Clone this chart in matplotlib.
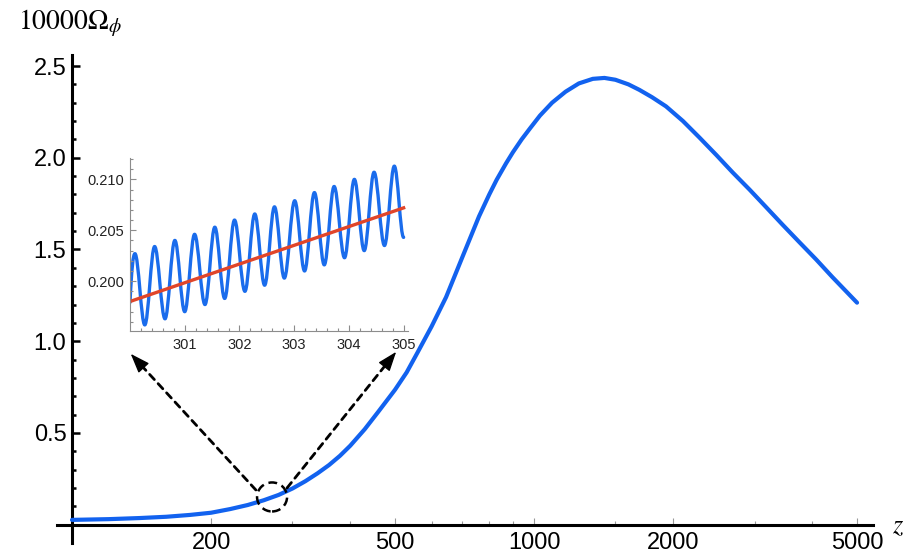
import matplotlib
matplotlib.use("Agg")
import numpy as np
import matplotlib.pyplot as plt
from matplotlib.path import Path
from matplotlib.patches import PathPatch, Ellipse
from matplotlib.transforms import ScaledTranslation

plt.rcParams['font.family'] = ['Liberation Sans', 'DejaVu Sans']
plt.rcParams['mathtext.fontset'] = 'stix'

# main curve (z, 10000*Omega_phi)
z_main = [100, 120, 140, 160, 180, 200, 220, 240, 260, 280, 300, 320, 340,
          360, 380, 400, 430, 460, 500, 530, 560, 600, 645, 700, 760, 800,
          830, 870, 900, 940, 980, 1030, 1094, 1170, 1250, 1340, 1420, 1500,
          1600, 1690, 1800, 1930, 2100, 2280, 2480, 2690, 2930, 3180, 3450,
          3750, 4080, 4420, 5000]
om_main = [0.026, 0.030, 0.036, 0.043, 0.053, 0.065, 0.085, 0.107, 0.133,
           0.162, 0.197, 0.237, 0.280, 0.325, 0.375, 0.430, 0.520, 0.615,
           0.735, 0.830, 0.940, 1.080, 1.240, 1.460, 1.680, 1.800, 1.880,
           1.970, 2.030, 2.100, 2.160, 2.230, 2.300, 2.360, 2.405, 2.430,
           2.435, 2.425, 2.400, 2.370, 2.330, 2.280, 2.200, 2.110, 2.015,
           1.920, 1.825, 1.730, 1.635, 1.540, 1.445, 1.350, 1.210]

x_major = [200, 500, 1000, 2000, 5000]
x_minor = [300, 400, 600, 700, 800, 900, 1500, 3000, 4000]
y_major = [0.5, 1.0, 1.5, 2.0, 2.5]

# inset: start point, then alternating peaks / troughs, then end point
z_wave = [300.00, 300.09, 300.27, 300.45, 300.64, 300.82, 301.00, 301.18,
          301.37, 301.55, 301.73, 301.91, 302.10, 302.28, 302.46, 302.64,
          302.82, 303.01, 303.19, 303.37, 303.55, 303.73, 303.92, 304.10,
          304.28, 304.46, 304.65, 304.83, 305.00]
om_wave = [0.1979, 0.2027, 0.1957, 0.2034, 0.1963, 0.2040, 0.1970, 0.2046,
           0.1977, 0.2053, 0.1983, 0.2060, 0.1990, 0.2066, 0.1996, 0.2073,
           0.2003, 0.2079, 0.2010, 0.2087, 0.2016, 0.2093, 0.2023, 0.2100,
           0.2030, 0.2107, 0.2035, 0.2113, 0.2043]
z_avg = [300.0, 305.0]
om_avg = [0.1980, 0.2072]

# zoom marker and arrows (main axes data coords)
circ_c = (271, 0.151)
arr_left = ((250, 0.189), (134, 0.931))
arr_right = ((292, 0.200), (503, 0.942))

blue = '#1262ef'
red = '#e0452a'

fig = plt.figure(figsize=(9.22, 5.59), dpi=100)
ax = fig.add_axes([57/922, 1 - 543/559, 816/922, 488/559])
ax.set_xscale('log')
ax.set_xlim(92.8, 5414)
ax.set_ylim(-0.1, 2.56)

ax.plot(z_main, om_main, color=blue, lw=3.0, solid_capstyle='round',
        solid_joinstyle='round', zorder=3)

for s in ['top', 'right']:
    ax.spines[s].set_visible(False)
ax.spines['left'].set_position(('data', 100))
ax.spines['bottom'].set_position(('data', 0))
ax.spines['left'].set_linewidth(2.2)
ax.spines['bottom'].set_linewidth(2.2)

ax.set_xticks(x_major)
ax.set_xticklabels([str(v) for v in x_major])
ax.set_xticks(x_minor, minor=True)
ax.set_xticklabels([], minor=True)
ax.set_yticks(y_major)
ax.set_yticklabels(['%.1f' % v for v in y_major])
ax.set_yticks([k / 10 for k in range(1, 26) if k % 5], minor=True)

ax.tick_params(axis='x', which='both', direction='in', color='#999999',
               width=0.8, labelsize=17, pad=5.5)
ax.tick_params(axis='x', which='major', length=5)
ax.tick_params(axis='x', which='minor', length=3)
ax.tick_params(axis='y', which='both', direction='in', color='black',
               width=1.8, labelsize=17, pad=4)
ax.tick_params(axis='y', which='major', length=5.5)
ax.tick_params(axis='y', which='minor', length=3)

fig.text(0.019, 0.958, r'$10000\Omega_\phi$', fontsize=20, va='center',
         ha='left')
fig.text(0.968, 0.059, r'$z$', fontsize=19, va='center', ha='left')

# dashed circle around the zoomed region
circ = Ellipse((0, 0), 0.30, 0.29, fill=False, ec='black', lw=1.8,
               ls=(0, (3.5, 2)),
               transform=fig.dpi_scale_trans + ScaledTranslation(
                   circ_c[0], circ_c[1], ax.transData), zorder=4)
ax.add_patch(circ)

# dashed shafts with solid heads
for start, tip in [arr_left, arr_right]:
    p0 = ax.transData.transform(start)
    p1 = ax.transData.transform(tip)
    u = (p1 - p0) / np.hypot(*(p1 - p0))
    back = -u * 14 * 72 / fig.dpi
    ax.annotate('', xy=tip, xytext=start, xycoords='data',
                arrowprops=dict(arrowstyle='-', color='black', lw=2.0,
                                ls=(0, (2.5, 2)), shrinkA=0, shrinkB=8),
                annotation_clip=False, zorder=4)
    ax.annotate('', xy=tip, xytext=(back[0], back[1]), xycoords='data',
                textcoords='offset points',
                arrowprops=dict(arrowstyle='-|>,head_length=0.6,head_width=0.22',
                                color='black', lw=1.0, shrinkA=0, shrinkB=0,
                                mutation_scale=20),
                annotation_clip=False, zorder=4)

# inset
axin = fig.add_axes([130/922, 1 - 331/559, 278/922, 173/559])
axin.patch.set_alpha(0)
axin.set_xlim(300, 305.08)
axin.set_ylim(0.1951, 0.2121)

K = 0.364
verts = [(z_wave[0], om_wave[0])]
codes = [Path.MOVETO]
for i in range(1, len(z_wave)):
    z0, v0 = z_wave[i - 1], om_wave[i - 1]
    z1, v1 = z_wave[i], om_wave[i]
    dz = z1 - z0
    if i == 1:
        c1 = (z0 + dz / 3, v0 + (v1 - v0) * 0.7)
    else:
        c1 = (z0 + K * dz, v0)
    c2 = (z1 - K * dz, v1)
    verts += [c1, c2, (z1, v1)]
    codes += [Path.CURVE4] * 3
axin.add_patch(PathPatch(Path(verts, codes), fill=False, ec='#1a6cec',
                         lw=2.4, capstyle='round', joinstyle='round'))
axin.plot(z_avg, om_avg, color=red, lw=2.4)

for s in ['top', 'right']:
    axin.spines[s].set_visible(False)
for s in ['left', 'bottom']:
    axin.spines[s].set_color('#8c8c8c')
    axin.spines[s].set_linewidth(0.8)

axin.set_xticks([301, 302, 303, 304, 305])
axin.set_xticks([300 + k / 5 for k in range(1, 26) if k % 5], minor=True)
axin.set_yticks([0.200, 0.205, 0.210])
axin.set_yticklabels(['0.200', '0.205', '0.210'])
axin.set_yticks([0.196, 0.197, 0.198, 0.199, 0.201, 0.202, 0.203, 0.204,
                 0.206, 0.207, 0.208, 0.209, 0.211, 0.212], minor=True)
axin.tick_params(which='both', direction='in', color='#8c8c8c', width=0.8,
                 labelsize=10.5, labelcolor='#222222')
axin.tick_params(which='major', length=4)
axin.tick_params(which='minor', length=2.5)
axin.tick_params(axis='x', pad=5)
axin.tick_params(axis='y', pad=4)

fig.savefig('out.png', dpi=100)
